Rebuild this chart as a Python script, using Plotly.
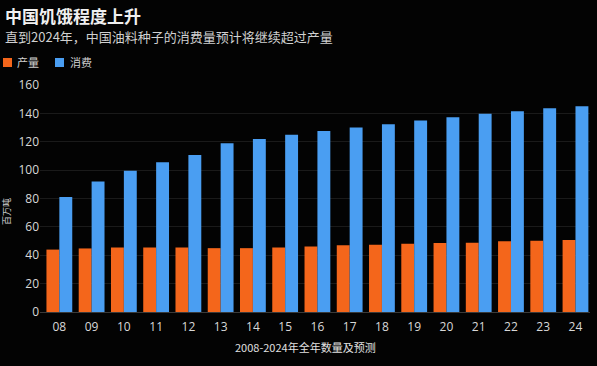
import plotly.graph_objects as go

years = ["08", "09", "10", "11", "12", "13", "14", "15", "16", "17", "18", "19", "20", "21", "22", "23", "24"]
production = [44, 44.8, 45.5, 45.5, 45.5, 45, 45, 45.5, 46.2, 47, 47.4, 48.1, 48.6, 48.8, 49.8, 50.2, 50.7]
consumption = [81, 92, 99.5, 105.6, 110.6, 119, 122, 125, 127.5, 130, 132.4, 135, 137.3, 139.7, 141.5, 143.7, 145]
y_ticks = [0, 20, 40, 60, 80, 100, 120, 140, 160]

ORANGE = "#F4661B"
BLUE = "#4A9EF2"
FONT = "Noto Sans CJK SC"

W, H = 597, 366
L, R, T, B = 40, 7, 85, 54
pw, ph = W - L - R, H - T - B


def px(x):
    return (x - L) / pw


def py(y):
    return (H - B - y) / ph


fig = go.Figure()
fig.add_trace(go.Bar(x=years, y=production, name="产量", marker=dict(color=ORANGE, line=dict(width=0))))
fig.add_trace(go.Bar(x=years, y=consumption, name="消费", marker=dict(color=BLUE, line=dict(width=0))))

annotations = [
    dict(text="<b>中国饥饿程度上升</b>", x=px(3), y=py(15), xanchor="left", yanchor="middle",
         font=dict(size=17, color="#F0F0F0", family=FONT)),
    dict(text="直到2024年，中国油料种子的消费量预计将继续超过产量", x=px(3), y=py(36), xanchor="left", yanchor="middle",
         font=dict(size=13, color="#D0D0D0", family=FONT)),
    dict(text="产量", x=px(15), y=py(62), xanchor="left", yanchor="middle",
         font=dict(size=11, color="#D0D0D0", family=FONT)),
    dict(text="消费", x=px(68), y=py(62), xanchor="left", yanchor="middle",
         font=dict(size=11, color="#D0D0D0", family=FONT)),
    dict(text="百万吨", x=px(6), y=py(212), xanchor="center", yanchor="middle", textangle=-90,
         font=dict(size=9, color="#D0D0D0", family=FONT)),
    dict(text="2008-2024年全年数量及预测", x=px(305), y=py(347), xanchor="center", yanchor="middle",
         font=dict(size=11, color="#E0E0E0", family=FONT)),
]
for a in annotations:
    a.update(xref="paper", yref="paper", showarrow=False)

shapes = [
    dict(type="rect", x0=px(3), x1=px(12), y0=py(58), y1=py(67), fillcolor=ORANGE, line=dict(width=0)),
    dict(type="rect", x0=px(55), x1=px(64), y0=py(58), y1=py(67), fillcolor=BLUE, line=dict(width=0)),
]
for s in shapes:
    s.update(xref="paper", yref="paper")

fig.update_layout(
    width=W, height=H,
    margin=dict(l=L, r=R, t=T, b=B),
    paper_bgcolor="#030303", plot_bgcolor="#030303",
    showlegend=False,
    barmode="group", bargap=0.2, bargroupgap=0.0,
    annotations=annotations, shapes=shapes,
    font=dict(family=FONT, color="#D8D8D8"),
)
fig.update_xaxes(
    type="category", range=[-0.6, 16.45],
    showgrid=False, showline=True, linecolor="#3A3A3A", linewidth=1,
    ticks="", tickfont=dict(size=12, color="#D8D8D8", family="Open Sans"),
    ticklabelstandoff=4,
)
fig.update_yaxes(
    range=[0, 160], tickvals=y_ticks,
    showgrid=True, gridcolor="#1A1A1A", gridwidth=1, zeroline=False,
    showline=False, ticks="",
    tickfont=dict(size=12, color="#D8D8D8", family="Open Sans"),
)

fig.write_html(
    "out.html",
    config={"displayModeBar": False},
    post_script="document.body.style.margin='0';document.body.style.background='#030303';",
)
